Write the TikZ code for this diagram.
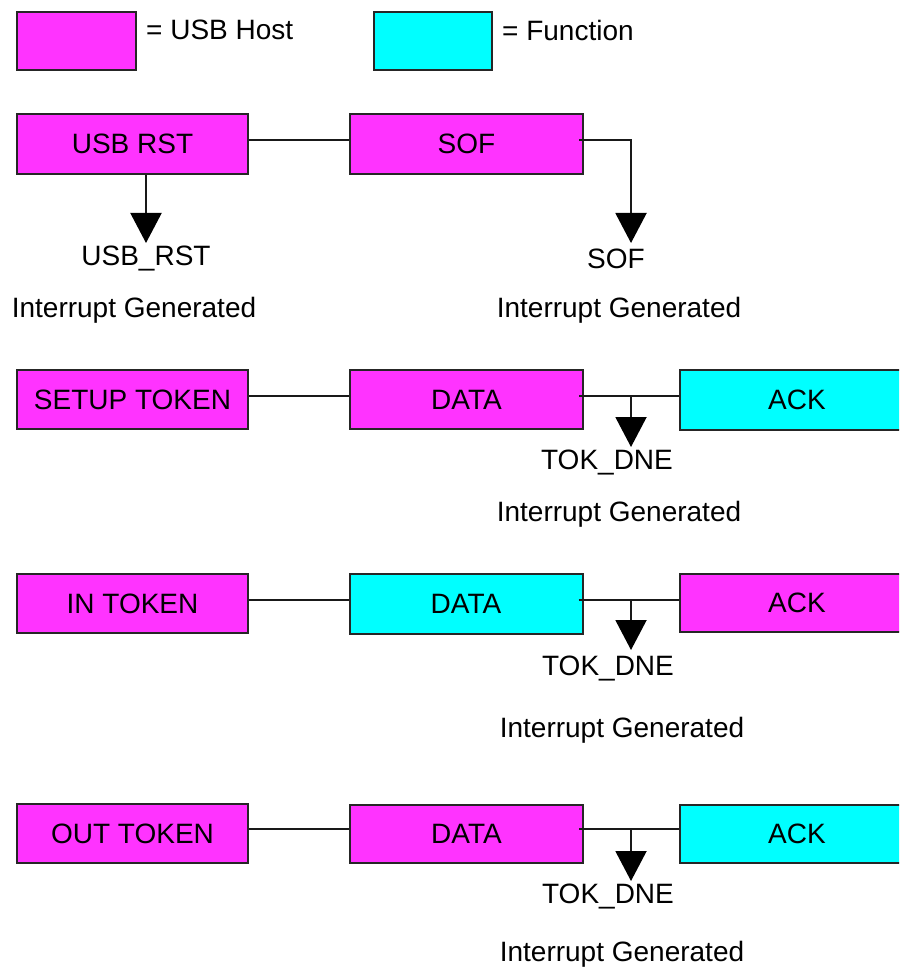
\documentclass[tikz,border=0pt]{standalone}
\usepackage{fontspec}
\setmainfont{Liberation Sans}
\usetikzlibrary{arrows.meta}
\definecolor{hostcol}{HTML}{FF33FF}
\definecolor{funccol}{HTML}{00FFFF}
\begin{document}
\begin{tikzpicture}[x=1pt,y=-1pt,
  font=\fontsize{28}{34}\selectfont,
  pkt/.style={draw=black!85, line width=2pt, inner sep=0pt, text=black},
  host/.style={pkt, fill=hostcol},
  func/.style={pkt, fill=funccol},
  wire/.style={draw=black!90, line width=2pt},
  irq/.style={wire, -{Triangle[width=31pt,length=30pt,fill=black,color=black]}},
  lbl/.style={inner sep=0pt, text=black}]
\clip (0,0) rectangle (899,968);
\fill[white] (0,0) rectangle (899,968);

% legend
\node[host, minimum width=119pt, minimum height=58pt] (lh) at (76.5,41) {};
\node[lbl, anchor=west] (lht) at (146,30) {= USB Host};
\node[func, minimum width=118pt, minimum height=58pt] (lf) at (433,41) {};
\node[lbl, anchor=west] (lft) at (502,30) {= Function};

% reset and start of frame
\node[host, minimum width=231pt, minimum height=60pt] (rst) at (132.5,144) {USB RST};
\node[host, minimum width=233pt, minimum height=60pt] (sof) at (466.5,144) {SOF};
\coordinate (rstirq) at (146,243);
\coordinate (sofirq) at (631,243);
\draw[wire] (rst.east |- 0,140) -- (sof.west |- 0,140);
\draw[irq] (rst.south -| 146,0) -- (rstirq);
\draw[irq] ([xshift=-5pt]sof.east |- 0,140) -| (sofirq);
\node[lbl] (rstn) at (146,259) {USB\_RST};
\node[lbl] (rstg) at (134,310) {Interrupt Generated};
\node[lbl] (sofn) at (616,259) {SOF};
\node[lbl] (sofg) at (619,310) {Interrupt Generated};

% setup transaction
\node[host, minimum width=231pt, minimum height=59pt] (setup) at (132.5,399.5) {SETUP TOKEN};
\node[host, minimum width=233pt, minimum height=59pt] (sdata) at (466.5,399.5) {DATA};
\node[func, minimum width=234pt, minimum height=60pt] (sack) at (797,400) {ACK};
\coordinate (sirq) at (631,447);
\draw[wire] (setup.east |- 0,396) -- (sdata.west |- 0,396);
\draw[wire] ([xshift=-5pt]sdata.east |- 0,396) -- (sack.west |- 0,396);
\draw[irq] (sirq |- 0,396) -- (sirq);
\node[lbl] (stok) at (607,463) {TOK\_DNE};
\node[lbl] (sgen) at (619,514) {Interrupt Generated};

% in transaction
\node[host, minimum width=231pt, minimum height=59pt] (in) at (132.5,603.5) {IN TOKEN};
\node[func, minimum width=233pt, minimum height=60pt] (idata) at (466,604) {DATA};
\node[host, minimum width=234pt, minimum height=58pt] (iack) at (797,603) {ACK};
\coordinate (iirq) at (631,650);
\draw[wire] (in.east |- 0,600) -- (idata.west |- 0,600);
\draw[wire] ([xshift=-5pt]idata.east |- 0,600) -- (iack.west |- 0,600);
\draw[irq] (iirq |- 0,600) -- (iirq);
\node[lbl] (itok) at (608,668) {TOK\_DNE};
\node[lbl] (igen) at (622,730) {Interrupt Generated};

% out transaction
\node[host, minimum width=231pt, minimum height=59pt] (out) at (132.5,833.5) {OUT TOKEN};
\node[host, minimum width=233pt, minimum height=58pt] (odata) at (466.5,834) {DATA};
\node[func, minimum width=234pt, minimum height=58pt] (oack) at (797,833.5) {ACK};
\coordinate (oirq) at (631,881);
\draw[wire] (out.east |- 0,829) -- (odata.west |- 0,829);
\draw[wire] ([xshift=-5pt]odata.east |- 0,829) -- (oack.west |- 0,829);
\draw[irq] (oirq |- 0,829) -- (oirq);
\node[lbl] (otok) at (608,896) {TOK\_DNE};
\node[lbl] (ogen) at (622,954) {Interrupt Generated};
\end{tikzpicture}
\end{document}
